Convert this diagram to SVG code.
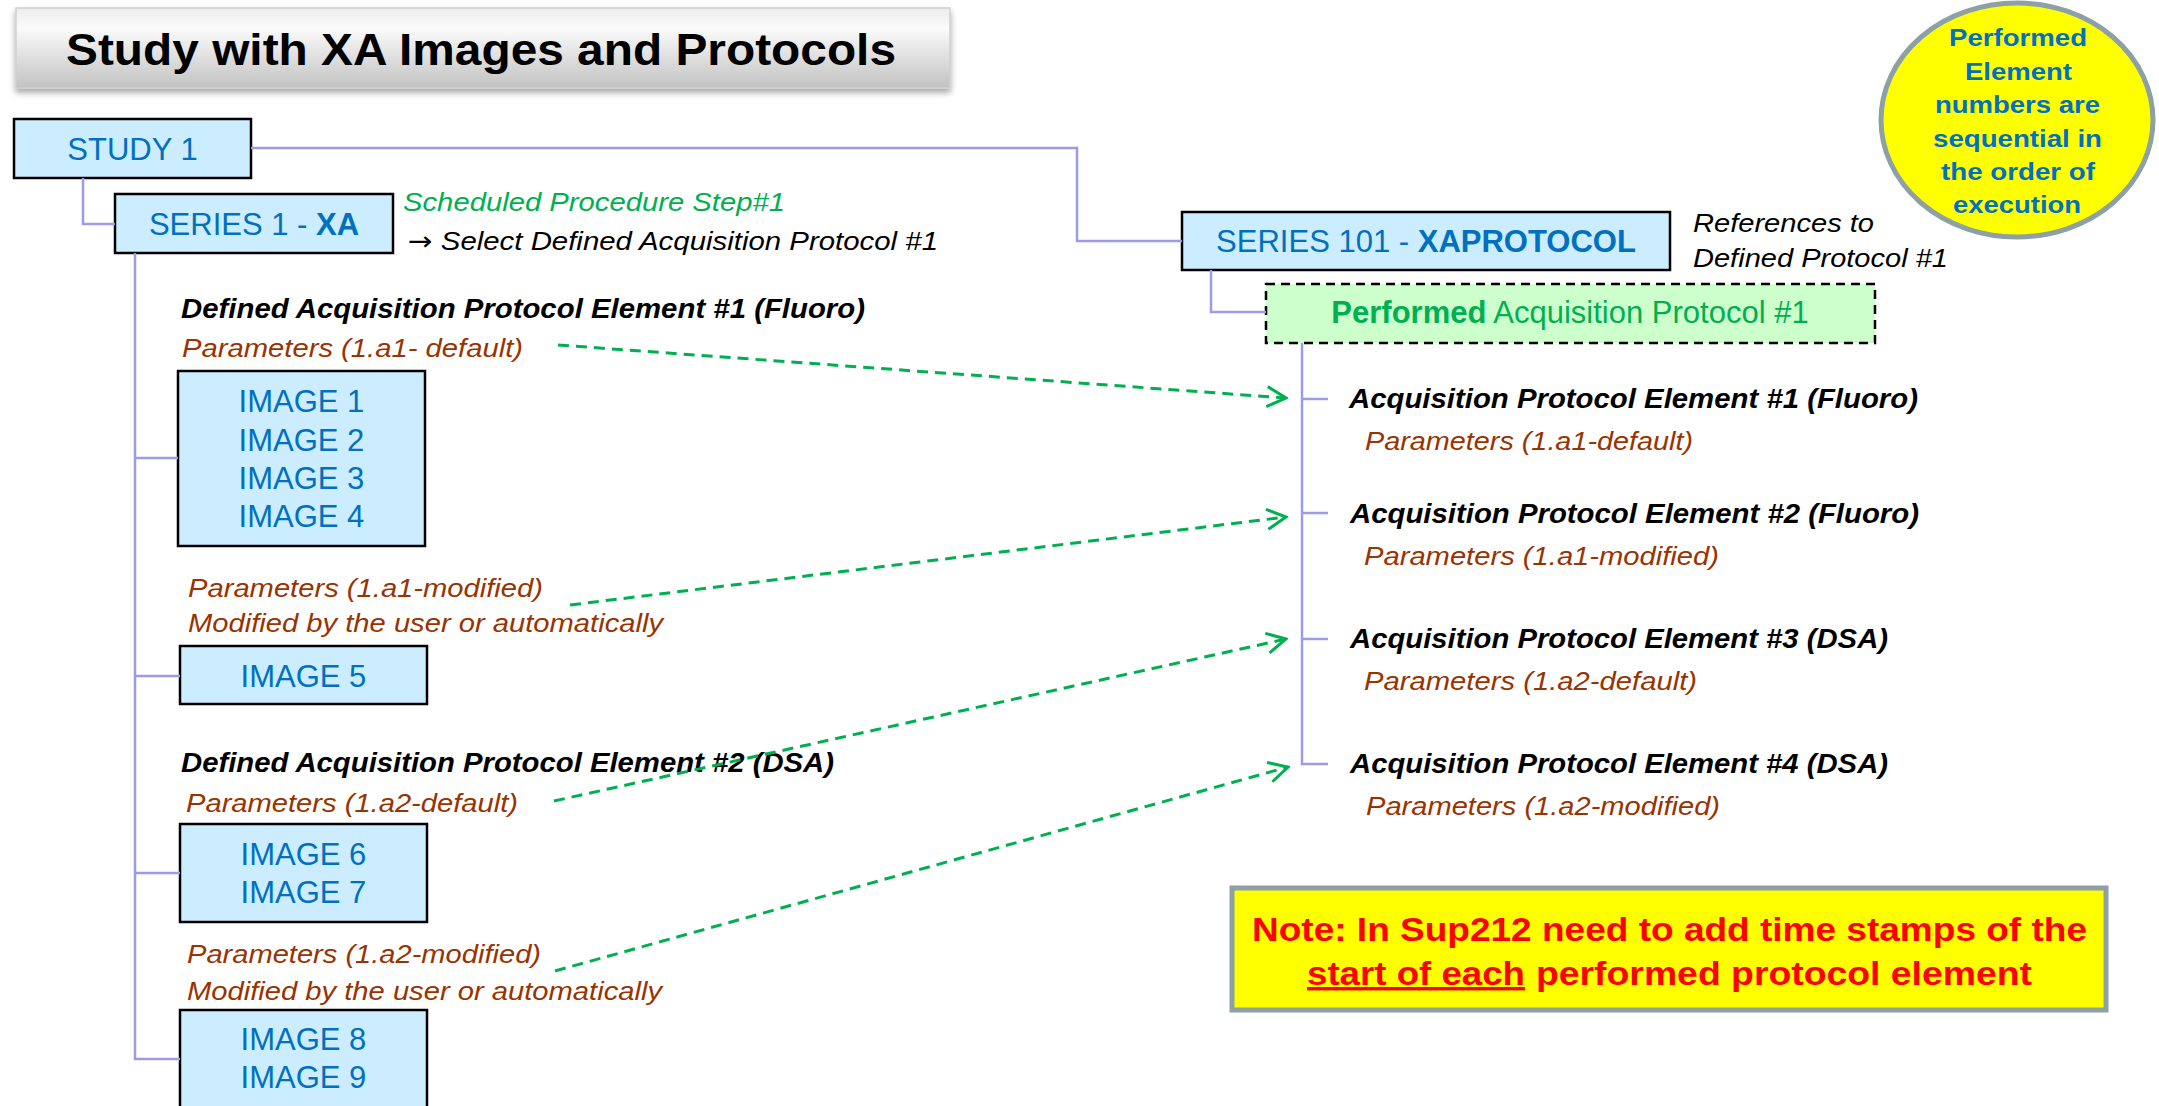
<svg xmlns="http://www.w3.org/2000/svg" width="2159" height="1106" viewBox="0 0 2159 1106">
  <defs>
    <linearGradient id="titleFill" x1="0" y1="0" x2="0" y2="1">
      <stop offset="0" stop-color="#ececec"/>
      <stop offset="0.25" stop-color="#fbfbfb"/>
      <stop offset="1" stop-color="#c2c2c2"/>
    </linearGradient>
    <filter id="softShadow" x="-5%" y="-20%" width="110%" height="150%">
      <feGaussianBlur in="SourceAlpha" stdDeviation="3"/>
      <feOffset dx="0" dy="4" result="b"/>
      <feComponentTransfer><feFuncA type="linear" slope="0.35"/></feComponentTransfer>
      <feMerge><feMergeNode/><feMergeNode in="SourceGraphic"/></feMerge>
    </filter>
    <marker id="openArrow" markerUnits="userSpaceOnUse" viewBox="-22 -12 24 24" refX="0" refY="0" markerWidth="24" markerHeight="24" orient="auto">
      <path d="M-19,-10 L0,0 L-19,10" fill="none" stroke="#00b050" stroke-width="3"/>
    </marker>
    <style>
      .box { fill: #ccecff; stroke: #000; stroke-width: 2.5; }
      .perf { fill: #ccffcc; stroke: #000; stroke-width: 2.5; stroke-dasharray: 9 6; }
      .lbl { font-family: "Liberation Sans", Arial, sans-serif; font-size: 31px; fill: #0070c0; text-anchor: middle; }
      .b { font-weight: bold; }
      .el { font-family: "Liberation Sans", Arial, sans-serif; font-size: 27px; font-style: italic; font-weight: bold; fill: #000; }
      .par { font-family: "Liberation Sans", Arial, sans-serif; font-size: 26px; font-style: italic; fill: #993300; }
      .ann { font-family: "Liberation Sans", Arial, sans-serif; font-size: 26px; font-style: italic; fill: #000; }
      .arrowGlyph { font-family: "DejaVu Sans", sans-serif; font-style: normal; }
      .green { fill: #00b050; }
      .conn { fill: none; stroke: #9b9be6; stroke-width: 2.5; }
      .ref { fill: none; stroke: #00b050; stroke-width: 3; stroke-dasharray: 11 7; marker-end: url(#openArrow); }
      .callout { fill: #ffff00; stroke: #8ca0a6; stroke-width: 5; }
      .circTxt { font-family: "Liberation Sans", Arial, sans-serif; font-size: 24px; font-weight: bold; fill: #0070c0; }
      .noteTxt { font-family: "Liberation Sans", Arial, sans-serif; font-size: 34px; font-weight: bold; fill: #ff0000; }
    </style>
  </defs>

  <rect width="2159" height="1106" fill="#ffffff"/>

  <!-- heading banner -->
  <g id="title">
    <rect x="16" y="8" width="934" height="80" fill="url(#titleFill)" stroke="#d0d0d0" stroke-width="1.5" filter="url(#softShadow)"/>
    <text x="66" y="65" textLength="830" lengthAdjust="spacingAndGlyphs" font-family="Liberation Sans, Arial, sans-serif" font-size="45" font-weight="bold" fill="#000">Study with XA Images and Protocols</text>
  </g>

  <!-- ordering callout -->
  <g id="callout-order">
    <ellipse class="callout" cx="2017" cy="120" rx="136" ry="117"/>
    <text class="circTxt" x="1949" y="46" textLength="138" lengthAdjust="spacingAndGlyphs">Performed</text>
    <text class="circTxt" x="1965" y="80" textLength="107" lengthAdjust="spacingAndGlyphs">Element</text>
    <text class="circTxt" x="1935" y="113" textLength="165" lengthAdjust="spacingAndGlyphs">numbers are</text>
    <text class="circTxt" x="1933" y="147" textLength="169" lengthAdjust="spacingAndGlyphs">sequential in</text>
    <text class="circTxt" x="1941" y="180" textLength="154" lengthAdjust="spacingAndGlyphs">the order of</text>
    <text class="circTxt" x="1953" y="213" textLength="128" lengthAdjust="spacingAndGlyphs">execution</text>
  </g>

  <!-- study / series hierarchy -->
  <g id="study1">
    <rect class="box" x="14" y="119" width="237" height="59"/>
    <text class="lbl" x="132.5" y="160">STUDY 1</text>
  </g>

  <g id="series1">
    <rect class="box" x="115" y="194" width="278" height="59"/>
    <text class="lbl" x="254" y="235">SERIES 1 - <tspan class="b">XA</tspan></text>
    <text class="ann green" x="403" y="211" textLength="382" lengthAdjust="spacingAndGlyphs">Scheduled Procedure Step#1</text>
    <text class="ann" x="408" y="250" textLength="530" lengthAdjust="spacingAndGlyphs"><tspan class="arrowGlyph">→</tspan> Select Defined Acquisition Protocol #1</text>
  </g>

  <g id="series101">
    <rect class="box" x="1182" y="212" width="488" height="58"/>
    <text class="lbl" x="1426" y="252">SERIES 101 - <tspan class="b">XAPROTOCOL</tspan></text>
    <text class="ann" x="1693" y="232" textLength="181" lengthAdjust="spacingAndGlyphs">References to</text>
    <text class="ann" x="1693" y="267" textLength="255" lengthAdjust="spacingAndGlyphs">Defined Protocol #1</text>
  </g>

  <g id="performed-protocol">
    <rect class="perf" x="1266" y="284" width="609" height="59"/>
    <text class="lbl green" x="1570" y="323"><tspan class="b">Performed</tspan> Acquisition Protocol #1</text>
  </g>

  <!-- defined protocol elements and image groups -->
  <g id="defined-element-1">
    <text class="el" x="181" y="318" textLength="684" lengthAdjust="spacingAndGlyphs">Defined Acquisition Protocol Element #1 (Fluoro)</text>
    <text class="par" x="182" y="357" textLength="341" lengthAdjust="spacingAndGlyphs">Parameters (1.a1- default)</text>
  </g>

  <g id="images-1-4">
    <rect class="box" x="178" y="371" width="247" height="175"/>
    <text class="lbl" x="301.5" y="412">IMAGE 1</text>
    <text class="lbl" x="301.5" y="451">IMAGE 2</text>
    <text class="lbl" x="301.5" y="489">IMAGE 3</text>
    <text class="lbl" x="301.5" y="527">IMAGE 4</text>
  </g>

  <g id="modified-1">
    <text class="par" x="188" y="597" textLength="355" lengthAdjust="spacingAndGlyphs">Parameters (1.a1-modified)</text>
    <text class="par" x="188" y="632" textLength="475" lengthAdjust="spacingAndGlyphs">Modified by the user or automatically</text>
  </g>

  <g id="image-5">
    <rect class="box" x="180" y="646" width="247" height="58"/>
    <text class="lbl" x="303.5" y="687">IMAGE 5</text>
  </g>

  <g id="defined-element-2">
    <text class="el" x="181" y="772" textLength="653" lengthAdjust="spacingAndGlyphs">Defined Acquisition Protocol Element #2 (DSA)</text>
    <text class="par" x="186" y="812" textLength="332" lengthAdjust="spacingAndGlyphs">Parameters (1.a2-default)</text>
  </g>

  <g id="images-6-7">
    <rect class="box" x="180" y="824" width="247" height="98"/>
    <text class="lbl" x="303.5" y="865">IMAGE 6</text>
    <text class="lbl" x="303.5" y="903">IMAGE 7</text>
  </g>

  <g id="modified-2">
    <text class="par" x="187" y="963" textLength="354" lengthAdjust="spacingAndGlyphs">Parameters (1.a2-modified)</text>
    <text class="par" x="187" y="1000" textLength="475" lengthAdjust="spacingAndGlyphs">Modified by the user or automatically</text>
  </g>

  <g id="images-8-9">
    <rect class="box" x="180" y="1010" width="247" height="130"/>
    <text class="lbl" x="303.5" y="1050">IMAGE 8</text>
    <text class="lbl" x="303.5" y="1088">IMAGE 9</text>
  </g>

  <!-- performed protocol elements -->
  <g id="performed-element-1">
    <text class="el" x="1349" y="408" textLength="569" lengthAdjust="spacingAndGlyphs">Acquisition Protocol Element #1 (Fluoro)</text>
    <text class="par" x="1365" y="450" textLength="328" lengthAdjust="spacingAndGlyphs">Parameters (1.a1-default)</text>
  </g>
  <g id="performed-element-2">
    <text class="el" x="1350" y="523" textLength="569" lengthAdjust="spacingAndGlyphs">Acquisition Protocol Element #2 (Fluoro)</text>
    <text class="par" x="1364" y="565" textLength="355" lengthAdjust="spacingAndGlyphs">Parameters (1.a1-modified)</text>
  </g>
  <g id="performed-element-3">
    <text class="el" x="1350" y="648" textLength="538" lengthAdjust="spacingAndGlyphs">Acquisition Protocol Element #3 (DSA)</text>
    <text class="par" x="1364" y="690" textLength="333" lengthAdjust="spacingAndGlyphs">Parameters (1.a2-default)</text>
  </g>
  <g id="performed-element-4">
    <text class="el" x="1350" y="773" textLength="538" lengthAdjust="spacingAndGlyphs">Acquisition Protocol Element #4 (DSA)</text>
    <text class="par" x="1366" y="815" textLength="354" lengthAdjust="spacingAndGlyphs">Parameters (1.a2-modified)</text>
  </g>

  <!-- note box -->
  <g id="note">
    <rect class="callout" x="1232" y="888" width="874" height="122"/>
    <text class="noteTxt" x="1252" y="941" textLength="835" lengthAdjust="spacingAndGlyphs">Note: In Sup212 need to add time stamps of the</text>
    <text class="noteTxt" x="1307" y="985" textLength="218" lengthAdjust="spacingAndGlyphs" text-decoration="underline">start of each</text>
    <text class="noteTxt" x="1536" y="985" textLength="496" lengthAdjust="spacingAndGlyphs">performed protocol element</text>
  </g>

  <!-- connectors -->
  <g id="connectors">
    <path class="conn" d="M251 148 H1077 V241 H1182"/>
    <path class="conn" d="M83 178 V224 H115"/>
    <path class="conn" d="M135 253 V1059 H180"/>
    <path class="conn" d="M135 458 H178 M135 676 H180 M135 873 H180"/>
    <path class="conn" d="M1211 270 V312 H1266"/>
    <path class="conn" d="M1302 343 V764 H1328"/>
    <path class="conn" d="M1302 399 H1328 M1302 513 H1328 M1302 639 H1328"/>
    <path class="ref" d="M558 345 L1286 398"/>
    <path class="ref" d="M570 605 L1286 517"/>
    <path class="ref" d="M554 801 L1286 639"/>
    <path class="ref" d="M555 971 L1288 767"/>
  </g>
</svg>
